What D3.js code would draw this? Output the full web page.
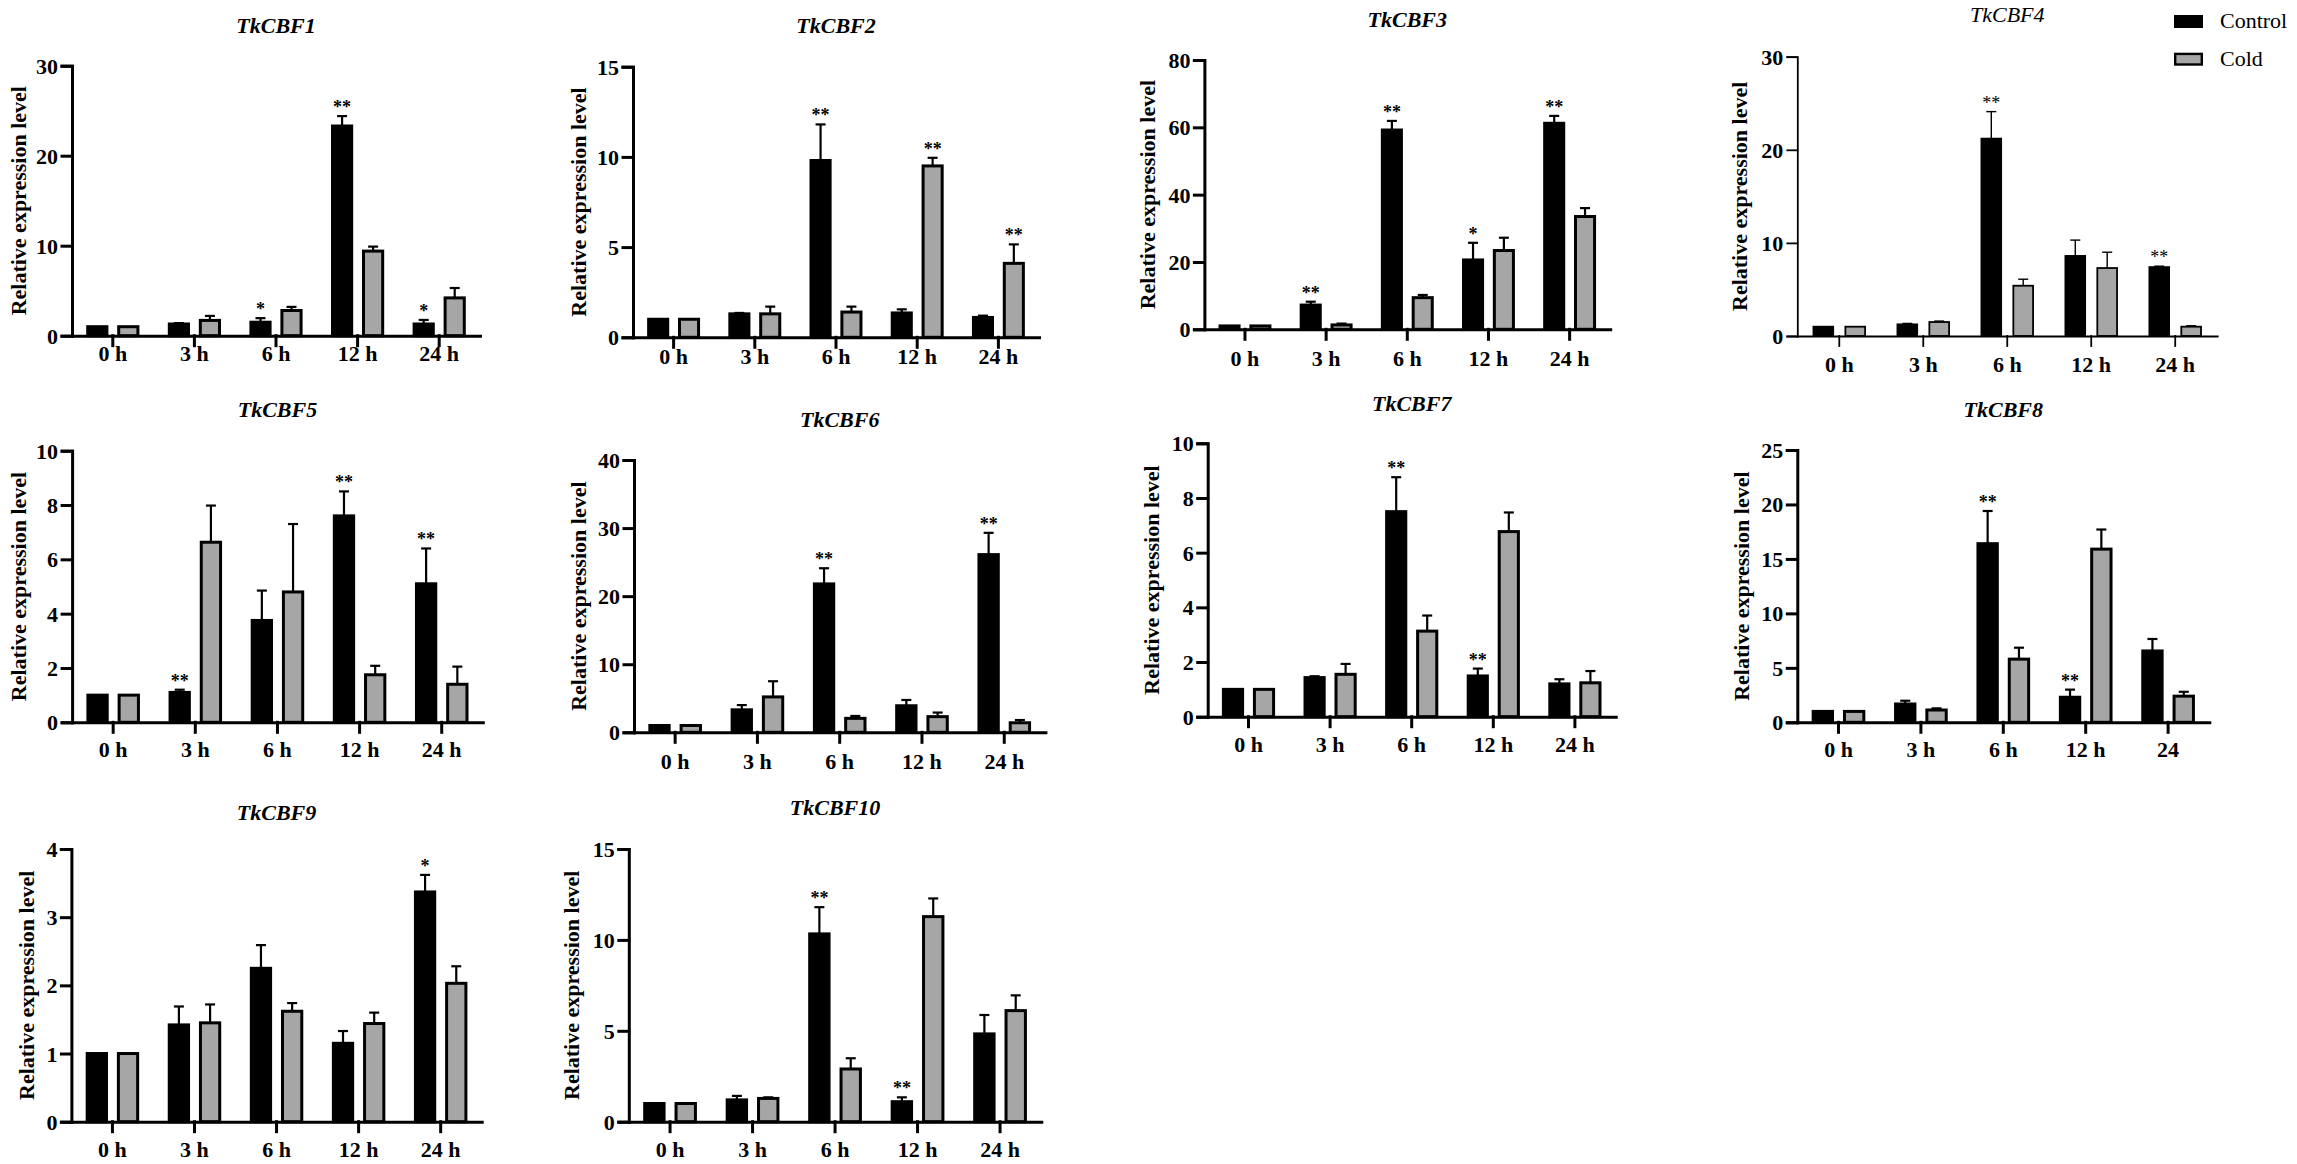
<!DOCTYPE html>
<html><head><meta charset="utf-8">
<script src="https://cdn.jsdelivr.net/npm/d3@7"></script>
<style>
body{margin:0;background:#fff}
svg{display:block}
text{font-family:"Liberation Serif","Times New Roman",serif;fill:#000}
</style>
</head><body>
<svg id="chart" width="2297" height="1164"></svg>
<script>
// ---------------- DATA ----------------
const genes = ["TkCBF1","TkCBF2","TkCBF3","TkCBF4","TkCBF5","TkCBF6","TkCBF7","TkCBF8","TkCBF9","TkCBF10"];
const timePoints = ["0 h","3 h","6 h","12 h","24 h"];
const timeLabelsCBF8 = ["0 h","3 h","6 h","12 h","24"];
const seriesNames = ["Control","Cold"];
const yAxisTitle = "Relative expression level";
const yMax  = [30, 15, 80, 30, 10, 40, 10, 25, 4, 15];
const yStep = [10,  5, 20, 10,  2, 10,  2,  5, 1,  5];

const controlMean = [
  [1.0, 1.3, 1.5, 23.3, 1.3],
  [1.0, 1.3, 9.8, 1.35, 1.1],
  [1.0, 7.2, 59.2, 20.6, 61.2],
  [1.0, 1.25, 21.2, 8.6, 7.4],
  [1.0, 1.1, 3.75, 7.6, 5.1],
  [1.0, 3.3, 21.8, 3.9, 26.1],
  [1.0, 1.43, 7.5, 1.49, 1.2],
  [1.0, 1.68, 16.4, 2.3, 6.55],
  [1.0, 1.42, 2.25, 1.15, 3.37],
  [1.0, 1.2, 10.33, 1.1, 4.83]
];
const controlErr = [
  [0, 0.1, 0.45, 1.1, 0.45],
  [0, 0.05, 2.0, 0.2, 0.1],
  [0, 1.0, 2.7, 5.1, 2.2],
  [0, 0.1, 2.9, 1.7, 0.1],
  [0, 0.1, 1.1, 0.9, 1.3],
  [0, 0.7, 2.3, 0.85, 3.2],
  [0, 0.05, 1.26, 0.27, 0.17],
  [0, 0.3, 3.0, 0.7, 1.1],
  [0, 0.27, 0.34, 0.18, 0.25],
  [0, 0.22, 1.47, 0.24, 1.04]
];
const coldMean = [
  [1.0, 1.7, 2.8, 9.4, 4.2],
  [1.0, 1.3, 1.4, 9.5, 4.1],
  [1.0, 1.3, 9.4, 23.4, 33.5],
  [1.0, 1.5, 5.4, 7.3, 1.0],
  [1.0, 6.63, 4.8, 1.75, 1.4],
  [1.0, 5.2, 2.05, 2.3, 1.4],
  [1.0, 1.55, 3.13, 6.77, 1.24],
  [1.0, 1.13, 5.8, 15.9, 2.4],
  [1.0, 1.45, 1.62, 1.44, 2.03],
  [1.0, 1.28, 2.9, 11.28, 6.11]
];
const coldErr = [
  [0, 0.5, 0.4, 0.5, 1.1],
  [0, 0.4, 0.3, 0.45, 1.05],
  [0, 0.4, 0.8, 3.8, 2.5],
  [0, 0.1, 0.7, 1.7, 0.1],
  [0, 1.35, 2.5, 0.33, 0.65],
  [0, 2.3, 0.35, 0.6, 0.4],
  [0, 0.38, 0.57, 0.7, 0.43],
  [0, 0.15, 1.05, 1.8, 0.4],
  [0, 0.27, 0.12, 0.16, 0.25],
  [0, 0.06, 0.59, 1.0, 0.84]
];
const controlSig = [
  ["", "", "*", "**", "*"],
  ["", "", "**", "", ""],
  ["", "**", "**", "*", "**"],
  ["", "", "**", "", "**"],
  ["", "**", "", "**", "**"],
  ["", "", "**", "", "**"],
  ["", "", "**", "**", ""],
  ["", "", "**", "**", ""],
  ["", "", "", "", "*"],
  ["", "", "**", "**", ""]
];
const coldSig = [
  ["", "", "", "", ""],
  ["", "", "", "**", "**"],
  ["", "", "", "", ""],
  ["", "", "", "", ""],
  ["", "", "", "", ""],
  ["", "", "", "", ""],
  ["", "", "", "", ""],
  ["", "", "", "", ""],
  ["", "", "", "", ""],
  ["", "", "", "", ""]
];

// ---------------- LAYOUT (positions only) ----------------
const layout = [
  {x0:72,    x1:480,    yTop:65.7,  yZero:335.7,  titleY:25,  xLabY:354,   yLabX:18.5},
  {x0:633,   x1:1039,   yTop:66.7,  yZero:337.3,  titleY:25,  xLabY:357,   yLabX:578.5},
  {x0:1204.4,x1:1610.2, yTop:60,    yZero:329.3,  titleY:19,  xLabY:358.3, yLabX:1147.7},
  {x0:1797.3,x1:2217.2, yTop:56.7,  yZero:336,    titleY:14,  xLabY:365,   yLabX:1739, thin:true},
  {x0:72.1,  x1:482.8,  yTop:450.7, yZero:722.3,  titleY:409, xLabY:750,   yLabX:18.5},
  {x0:634,   x1:1045.4, yTop:460,   yZero:732.3,  titleY:419, xLabY:761.7, yLabX:578.5},
  {x0:1207.7,x1:1615.7, yTop:443.3, yZero:716.7,  titleY:403, xLabY:745,   yLabX:1151.4},
  {x0:1797.3,x1:2209.3, yTop:450,   yZero:722.3,  titleY:409, xLabY:750,   yLabX:1741},
  {x0:71.4,  x1:481.7,  yTop:849,   yZero:1121.7, titleY:812, xLabY:1150,  yLabX:26},
  {x0:628.8, x1:1041.3, yTop:849,   yZero:1121.7, titleY:807, xLabY:1150,  yLabX:571.4}
];
const fills = ["#000000", "#a6a6a6"];

// ---------------- DRAW ----------------
const svg = d3.select("#chart");

genes.forEach((gene, i) => {
  const L = layout[i];
  const g = svg.append("g");
  const cats = i === 7 ? timeLabelsCBF8 : timePoints;
  const x = d3.scaleBand().domain(cats).range([L.x0, L.x1]).padding(0);
  const y = d3.scaleLinear().domain([0, yMax[i]]).range([L.yZero, L.yTop]);
  const step = x.step();
  const bw = step * 0.235;
  const off = step * 0.19;
  const sw = L.thin ? 1.8 : 3;
  const ew = L.thin ? 1.4 : 2.2;

  const series = [
    {mean: controlMean[i], err: controlErr[i], sig: controlSig[i]},
    {mean: coldMean[i], err: coldErr[i], sig: coldSig[i]}
  ];

  series.forEach((s, si) => {
    const data = cats.map((c, j) => ({c, v: s.mean[j], e: s.err[j], sig: s.sig[j]}));
    const cx = d => x(d.c) + step / 2 + (si === 0 ? -off : off);
    const eg = g.append("g");
    // error bars (upward only)
    eg.selectAll("line.err").data(data.filter(d => d.e > 0)).join("line")
      .attr("x1", cx).attr("x2", cx)
      .attr("y1", d => y(d.v)).attr("y2", d => y(d.v + d.e))
      .attr("stroke", "#000").attr("stroke-width", ew);
    eg.selectAll("line.cap").data(data.filter(d => d.e > 0)).join("line")
      .attr("x1", d => cx(d) - 5).attr("x2", d => cx(d) + 5)
      .attr("y1", d => y(d.v + d.e)).attr("y2", d => y(d.v + d.e))
      .attr("stroke", "#000").attr("stroke-width", ew);
    // bars
    g.append("g").selectAll("rect").data(data).join("rect")
      .attr("x", d => cx(d) - bw / 2)
      .attr("width", bw)
      .attr("y", d => y(d.v))
      .attr("height", d => L.yZero - y(d.v))
      .attr("fill", fills[si])
      .attr("stroke", "#000")
      .attr("stroke-width", sw);
    // significance marks
    g.append("g").selectAll("text").data(data.filter(d => d.sig)).join("text")
      .attr("x", cx)
      .attr("y", d => y(d.v + d.e) - 3)
      .attr("text-anchor", "middle")
      .style("font-size", "18px")
      .style("font-weight", L.thin ? "normal" : "bold")
      .text(d => d.sig);
  });

  // y axis
  const yTicks = d3.range(0, yMax[i] + yStep[i] / 2, yStep[i]);
  const ya = g.append("g").attr("transform", `translate(${L.x0},0)`)
    .call(d3.axisLeft(y).tickValues(yTicks).tickSize(10).tickPadding(4).tickFormat(d3.format("d")));
  ya.selectAll("path,line").attr("stroke", "#000").attr("stroke-width", sw).attr("stroke-linecap", "square");
  ya.selectAll("text").style("font-size", "22px").style("font-weight", "bold").attr("dy", "0.34em");

  // x axis
  const xa = g.append("g").attr("transform", `translate(0,${L.yZero})`)
    .call(d3.axisBottom(x).tickSize(10).tickSizeOuter(0));
  xa.selectAll("path,line").attr("stroke", "#000").attr("stroke-width", sw).attr("stroke-linecap", "square");
  xa.selectAll("text").style("font-size", "22px").style("font-weight", "bold")
    .attr("y", L.xLabY - L.yZero).attr("dy", "0.34em");

  // axis title
  g.append("text")
    .attr("transform", `translate(${L.yLabX},${(L.yTop + L.yZero) / 2}) rotate(-90)`)
    .attr("text-anchor", "middle").attr("dominant-baseline", "central")
    .style("font-size", "22px").style("font-weight", "bold")
    .text(yAxisTitle);

  // panel title
  g.append("text")
    .attr("x", (L.x0 + L.x1) / 2).attr("y", L.titleY)
    .attr("text-anchor", "middle").attr("dominant-baseline", "central")
    .style("font-size", "22px").style("font-style", "italic")
    .style("font-weight", L.thin ? "normal" : "bold")
    .text(gene);
});

// legend
const leg = svg.append("g");
seriesNames.forEach((name, k) => {
  const ly = k === 0 ? 15 : 52.7;
  leg.append("rect")
    .attr("x", 2175.2).attr("y", ly + 1.2).attr("width", 26.6).attr("height", 10.6)
    .attr("fill", fills[k]).attr("stroke", "#000").attr("stroke-width", 2.4);
  leg.append("text")
    .attr("x", 2220).attr("y", ly + 13.3)
    .style("font-size", "22px")
    .text(name);
});
</script>
</body></html>
